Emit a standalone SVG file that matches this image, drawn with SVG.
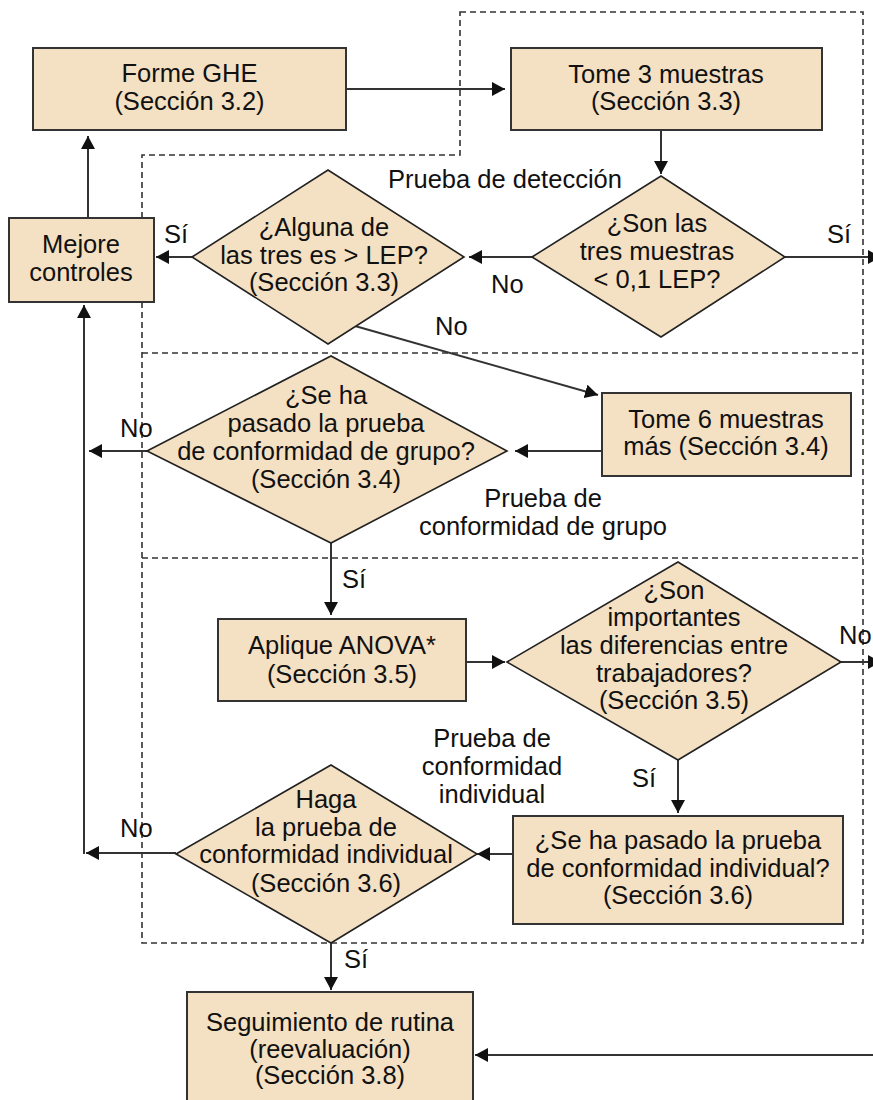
<svg xmlns="http://www.w3.org/2000/svg" width="873" height="1100" viewBox="0 0 873 1100">
  <style>
    .box { fill: #F4E0C2; stroke: #333; stroke-width: 2; }
    .dia { fill: #F4E0C2; stroke: #222; stroke-width: 1.6; }
    .t { font-family: "Liberation Sans", Arial, sans-serif; font-size: 25.5px; fill: #111; text-anchor: middle; }
    .l { font-family: "Liberation Sans", Arial, sans-serif; font-size: 25.5px; fill: #111; }
    .c { stroke: #333; stroke-width: 2; fill: none; marker-end: url(#ah); }
    .dash { stroke: #333; stroke-width: 1.6; fill: none; stroke-dasharray: 6 4; }
  </style>
  <defs>
    <marker id="ah" markerUnits="userSpaceOnUse" viewBox="0 0 13 14" refX="13" refY="7" markerWidth="13" markerHeight="14" orient="auto">
      <path d="M0,0 L13,7 L0,14 Z" fill="#111"/>
    </marker>
  </defs>
  <rect width="873" height="1100" fill="#fff"/>

  <g id="regions">
    <path class="dash" d="M460,12 H863 V943 H142 V155 H460 Z"/>
    <line class="dash" x1="142" y1="353" x2="863" y2="353"/>
    <line class="dash" x1="142" y1="558" x2="863" y2="558"/>
    <text class="l" x="388" y="188">Prueba de detección</text>
    <text class="t" x="543" y="507">Prueba de</text>
    <text class="t" x="543" y="535">conformidad de grupo</text>
    <text class="t" x="492" y="747">Prueba de</text>
    <text class="t" x="492" y="775">conformidad</text>
    <text class="t" x="492" y="803">individual</text>
  </g>

  <g id="connectors">
    <line class="c" x1="346" y1="89" x2="505" y2="89"/>
    <line class="c" x1="661" y1="130" x2="661" y2="174"/>
    <line class="c" x1="785" y1="257" x2="881" y2="257"/>
    <line class="c" x1="532" y1="257" x2="469" y2="257"/>
    <line class="c" x1="192" y1="257" x2="156" y2="257"/>
    <line class="c" x1="88" y1="218" x2="88" y2="136"/>
    <line class="c" x1="355" y1="326" x2="598" y2="395"/>
    <line class="c" x1="602" y1="451" x2="515" y2="451"/>
    <line class="c" x1="147" y1="451" x2="89" y2="451"/>
    <line class="c" x1="331" y1="543" x2="331" y2="615"/>
    <line class="c" x1="466" y1="662" x2="505" y2="662"/>
    <line class="c" x1="841" y1="662" x2="881" y2="662"/>
    <line class="c" x1="678" y1="760" x2="678" y2="813"/>
    <line class="c" x1="513" y1="854" x2="477" y2="854"/>
    <line class="c" x1="176" y1="853" x2="86" y2="853"/>
    <line class="c" x1="84" y1="854" x2="84" y2="305"/>
    <line class="c" x1="331" y1="943" x2="331" y2="990"/>
    <line class="c" x1="880" y1="1055" x2="475" y2="1055"/>
    <text class="l" x="164" y="243">Sí</text>
    <text class="l" x="827" y="243">Sí</text>
    <text class="l" x="491" y="293">No</text>
    <text class="l" x="435" y="335">No</text>
    <text class="l" x="120" y="437">No</text>
    <text class="l" x="342" y="588">Sí</text>
    <text class="l" x="839" y="644">No</text>
    <text class="l" x="632" y="787">Sí</text>
    <text class="l" x="120" y="837">No</text>
    <text class="l" x="344" y="968">Sí</text>
  </g>

  <g id="forme-ghe">
    <rect class="box" x="33" y="48" width="313" height="82"/>
    <text class="t" x="189.5" y="82">Forme GHE</text>
    <text class="t" x="189.5" y="110">(Sección 3.2)</text>
  </g>

  <g id="tome-3">
    <rect class="box" x="511" y="48" width="311" height="82"/>
    <text class="t" x="666" y="83">Tome 3 muestras</text>
    <text class="t" x="666" y="110">(Sección 3.3)</text>
  </g>

  <g id="mejore-controles">
    <rect class="box" x="9" y="218" width="145" height="84"/>
    <text class="t" x="81" y="253">Mejore</text>
    <text class="t" x="81" y="281">controles</text>
  </g>

  <g id="alguna-lep">
    <polygon class="dia" points="192,257 328,170 464,257 328,344"/>
    <text class="t" x="324" y="236">¿Alguna de</text>
    <text class="t" x="324" y="264">las tres es &gt; LEP?</text>
    <text class="t" x="324" y="291">(Sección 3.3)</text>
  </g>

  <g id="son-tres-muestras">
    <polygon class="dia" points="532,257 661,176 785,257 661,337"/>
    <text class="t" x="657" y="232">¿Son las</text>
    <text class="t" x="657" y="260">tres muestras</text>
    <text class="t" x="657" y="288">&lt; 0,1 LEP?</text>
  </g>

  <g id="tome-6">
    <rect class="box" x="602" y="393" width="249" height="83"/>
    <text class="t" x="726" y="428">Tome 6 muestras</text>
    <text class="t" x="726" y="455">más (Sección 3.4)</text>
  </g>

  <g id="conformidad-grupo">
    <polygon class="dia" points="147,451 331,356 507,451 331,543"/>
    <text class="t" x="326" y="404">¿Se ha</text>
    <text class="t" x="326" y="432">pasado la prueba</text>
    <text class="t" x="326" y="460">de conformidad de grupo?</text>
    <text class="t" x="326" y="488">(Sección 3.4)</text>
  </g>

  <g id="aplique-anova">
    <rect class="box" x="218" y="619" width="248" height="82"/>
    <text class="t" x="342" y="654">Aplique ANOVA*</text>
    <text class="t" x="342" y="683">(Sección 3.5)</text>
  </g>

  <g id="diferencias">
    <polygon class="dia" points="507,662 678,562 841,662 678,760"/>
    <text class="t" x="674" y="599">¿Son</text>
    <text class="t" x="674" y="626">importantes</text>
    <text class="t" x="674" y="654">las diferencias entre</text>
    <text class="t" x="674" y="682">trabajadores?</text>
    <text class="t" x="674" y="709">(Sección 3.5)</text>
  </g>

  <g id="conformidad-individual-q">
    <rect class="box" x="513" y="816" width="330" height="108"/>
    <text class="t" x="678" y="849">¿Se ha pasado la prueba</text>
    <text class="t" x="678" y="877">de conformidad individual?</text>
    <text class="t" x="678" y="904">(Sección 3.6)</text>
  </g>

  <g id="haga-prueba">
    <polygon class="dia" points="176,854 331,765 477,854 331,943"/>
    <text class="t" x="326" y="808">Haga</text>
    <text class="t" x="326" y="836">la prueba de</text>
    <text class="t" x="326" y="863">conformidad individual</text>
    <text class="t" x="326" y="892">(Sección 3.6)</text>
  </g>

  <g id="seguimiento">
    <rect class="box" x="187" y="992" width="286" height="120"/>
    <text class="t" x="330" y="1031">Seguimiento de rutina</text>
    <text class="t" x="330" y="1058">(reevaluación)</text>
    <text class="t" x="330" y="1084">(Sección 3.8)</text>
  </g>
</svg>
